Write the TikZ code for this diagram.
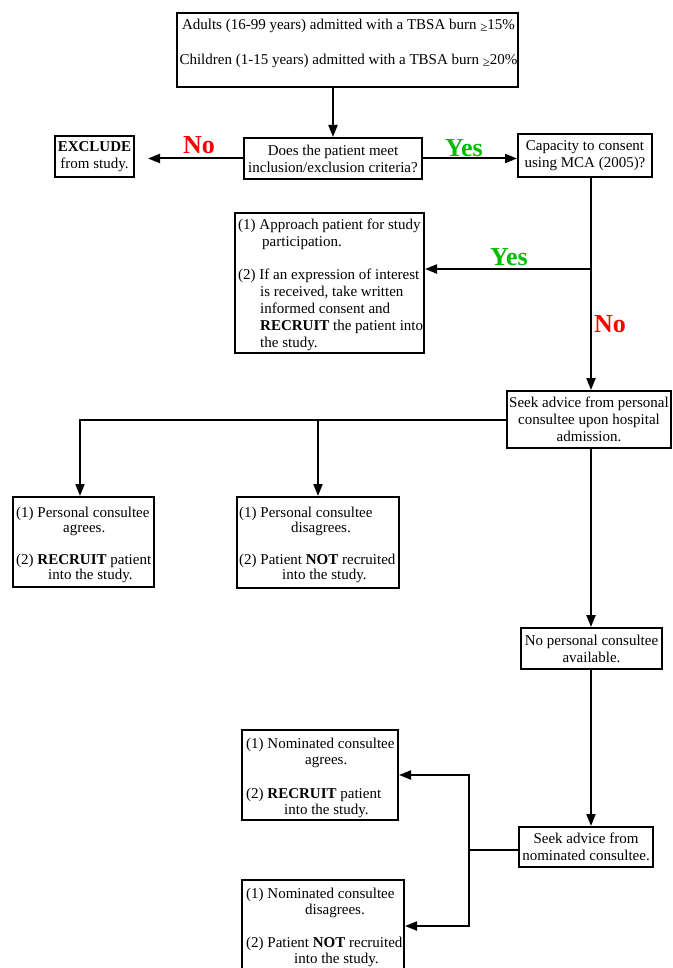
\documentclass[tikz,border=0pt]{standalone}
\usepackage{fontspec}
\setmainfont{Liberation Serif}
\usetikzlibrary{arrows.meta}
\definecolor{yesgreen}{RGB}{0,190,0}
\definecolor{nored}{RGB}{255,0,0}
\newcommand{\fsz}{\fontsize{15pt}{17pt}\selectfont}
\newcommand{\fszb}{\fontsize{15pt}{15pt}\selectfont}
\newcommand{\fszc}{\fontsize{15pt}{16pt}\selectfont}
\newcommand{\geqsym}{\raisebox{-2pt}{\fontsize{13pt}{13pt}\selectfont ≥}}
\begin{document}
\begin{tikzpicture}[x=1pt,y=-1pt,
  box/.style={draw, line width=2pt, inner sep=0pt, align=center, font=\fsz},
  lst/.style={inner sep=0pt, align=left, anchor=base west, font=\fsz},
  lbl/.style={font=\fontsize{26pt}{28pt}\selectfont\bfseries, inner sep=0pt},
  conn/.style={line width=2pt},
  arr/.style={conn, -{Triangle[length=12pt,width=9pt]}}]
\useasboundingbox (0,0) rectangle (672,968);

% boxes (text nodes are anchored at the baseline of their last line)
\node[box, line width=2.6pt, minimum width=341pt, minimum height=74pt] (top) at (347.5,50) {};
\node[inner sep=0pt, align=center, anchor=base, font=\fsz] (topt) at (348.5,65)
  {Adults (16-99 years) admitted with a TBSA burn \geqsym15\%\\[18pt]Children (1-15 years) admitted with a TBSA burn \geqsym20\%};

\node[box, minimum width=79pt, minimum height=41pt] (ex) at (94.5,156.5) {\textbf{EXCLUDE}\\from study.};
\node[box, minimum width=178pt, minimum height=41pt] (q) at (333,158.5) {Does the patient meet\\inclusion/exclusion criteria?};
\node[box, minimum width=134pt, minimum height=43pt] (cap) at (585,155.5) {Capacity to consent\\using MCA (2005)?};

\node[box, minimum width=189pt, minimum height=140pt] (ap) at (329.5,283) {};
\node[lst] (apt) at (238,347) {(1) Approach patient for study\\
\hspace*{24pt}participation.\\[16pt]
(2) If an expression of interest\\
\hspace*{22pt}is received, take written\\
\hspace*{22pt}informed consent and\\
\hspace*{22pt}\textbf{RECRUIT} the patient into\\
\hspace*{22pt}the study.};

\node[box, minimum width=164pt, minimum height=57pt] (sp) at (589,419.5) {Seek advice from personal\\consultee upon hospital\\admission.};

\node[box, minimum width=141pt, minimum height=90pt] (pa) at (83.5,542) {};
\node[lst, font=\fszb] (pat) at (16,579) {(1) Personal consultee\\
\hspace*{47pt}agrees.\\[17pt]
(2) \textbf{RECRUIT} patient\\
\hspace*{32pt}into the study.};

\node[box, minimum width=162pt, minimum height=91pt] (pd) at (318,542.5) {};
\node[lst, font=\fszb] (pdt) at (239,579) {(1) Personal consultee\\
\hspace*{52pt}disagrees.\\[17pt]
(2) Patient \textbf{NOT} recruited\\
\hspace*{43pt}into the study.};

\node[box, minimum width=141pt, minimum height=41pt] (np) at (591.5,648.5) {No personal consultee\\available.};
\node[box, minimum width=134pt, minimum height=40pt] (sn) at (586,847) {Seek advice from\\nominated consultee.};

\node[box, minimum width=156pt, minimum height=90pt] (na) at (320,775) {};
\node[lst, font=\fszc] (nat) at (246,814) {(1) Nominated consultee\\
\hspace*{59pt}agrees.\\[18pt]
(2) \textbf{RECRUIT} patient\\
\hspace*{38pt}into the study.};

\node[box, minimum width=162pt, minimum height=104pt] (nd) at (323,932) {};
\node[lst, font=\fszc] (ndt) at (246,963) {(1) Nominated consultee\\
\hspace*{59pt}disagrees.\\[17pt]
(2) Patient \textbf{NOT} recruited\\
\hspace*{48pt}into the study.};

% labels
\node[lbl, text=nored] (no1) at (199,145) {No};
\node[lbl, text=yesgreen] (yes1) at (464,148) {Yes};
\node[lbl, text=yesgreen] (yes2) at (509,257) {Yes};
\node[lbl, text=nored] (no2) at (610,324) {No};

% connectors
\coordinate (vx) at (591,0);
\coordinate (j) at (469,850);
\draw[arr] (top.south -| q.north) -- (q.north);
\draw[arr, shorten >=13pt] (q.west) -- (q.west -| ex.east);
\draw[arr] (q.east) -- (q.east -| cap.west);
\draw[arr] (cap.south -| vx) -- (sp.north -| vx);
\draw[arr] (vx |- ap.east) ++(0,-14) -- ([yshift=14pt]ap.east);
\draw[arr] (sp.west) -| ([xshift=-3.5pt]pa.north);
\draw[arr] (sp.west -| pd.north) -- (pd.north);
\draw[arr] (sp.south -| vx) -- (np.north -| vx);
\draw[arr] (np.south -| vx) -- (sn.north -| vx);
\draw[conn] (sn.west |- j) -- (j);
\draw[arr] (j) |- (na.east);
\draw[arr] (j) |- ([yshift=6pt]nd.east);
\end{tikzpicture}
\end{document}
